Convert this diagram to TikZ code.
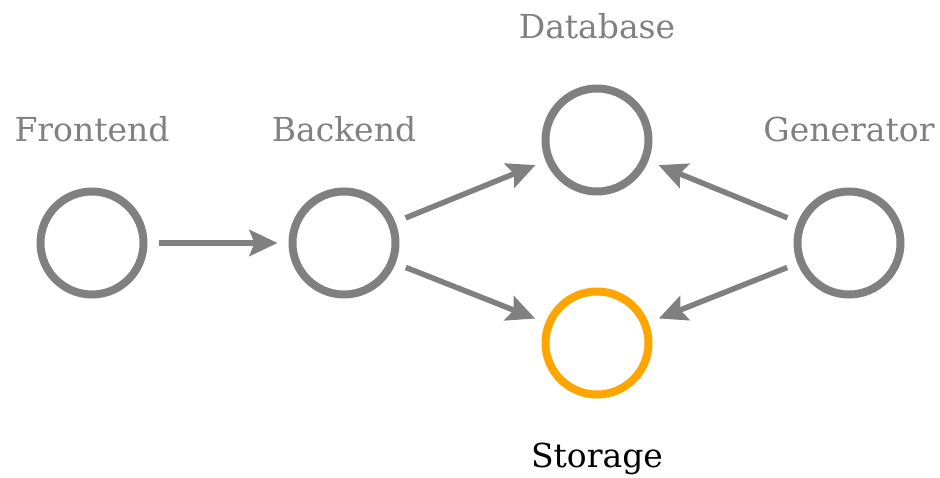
\documentclass[tikz,border=0pt]{standalone}
\usepackage{fontspec}
\setmainfont{DejaVu Serif}
\usetikzlibrary{arrows.meta}
\definecolor{ringgray}{RGB}{128,128,128}
\definecolor{ringorange}{RGB}{255,165,0}
\begin{document}
\begin{tikzpicture}[x=1pt,y=-1pt,
  ring/.style={circle, draw=ringgray, line width=8pt, minimum size=103pt, inner sep=0pt},
  hot/.style={ring, draw=ringorange},
  lbl/.style={text=ringgray, anchor=base, font=\fontsize{33}{40}\selectfont, inner sep=0pt},
  link/.style={draw=ringgray, line width=5.5pt, shorten <=11pt, shorten >=11pt,
    -{Stealth[length=28pt, width=26pt, inset=5pt]}}]
  \useasboundingbox (0,0) rectangle (940,478);
  % nodes
  \node[ring] (front) at (92,243) {};
  \node[ring] (back)  at (344,243) {};
  \node[ring] (db)    at (597,140) {};
  \node[hot]  (store) at (597,343) {};
  \node[ring] (gen)   at (849,243) {};
  % labels
  \node[lbl] (frontL) at (92,142) {Frontend};
  \node[lbl] (backL)  at (344,142) {Backend};
  \node[lbl] (dbL)    at (597,39) {Database};
  \node[lbl] (genL)   at (849,142) {Generator};
  \node[lbl, text=black] (storeL) at (597,467) {Storage};
  % connectors
  \draw[link] (front) -- (back);
  \draw[link] (back) -- (db);
  \draw[link] (back) -- (store);
  \draw[link] (gen) -- (db);
  \draw[link] (gen) -- (store);
\end{tikzpicture}
\end{document}
